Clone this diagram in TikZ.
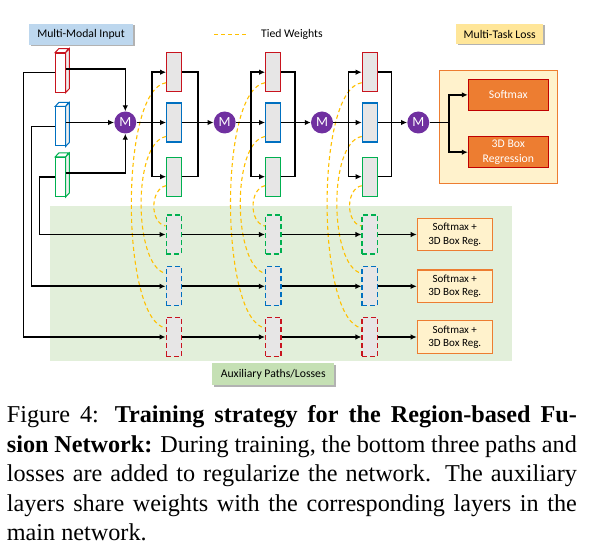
\documentclass[tikz,border=0pt]{standalone}
\usepackage{fontspec}
\setmainfont{Carlito}
\newfontfamily\capfont{Liberation Serif}
\usetikzlibrary{arrows.meta,calc,shadows}
\definecolor{cred}{RGB}{200,20,30}
\definecolor{cblue}{RGB}{0,112,192}
\definecolor{cgreen}{RGB}{0,176,80}
\definecolor{gfill}{RGB}{231,230,230}
\definecolor{mpurple}{RGB}{112,48,160}
\definecolor{tyellow}{RGB}{255,192,0}
\definecolor{lblue}{RGB}{189,215,238}
\definecolor{lyellow}{RGB}{255,230,153}
\definecolor{lgreen}{RGB}{197,224,180}
\definecolor{auxbg}{RGB}{226,239,218}
\definecolor{lossbg}{RGB}{255,242,204}
\definecolor{corange}{RGB}{237,125,49}
\definecolor{boxred}{RGB}{192,0,0}
\begin{document}
\begin{tikzpicture}[x=1pt,y=-1pt,
  mainblk/.style={draw=#1, fill=gfill, line width=1.2pt, minimum width=15pt, minimum height=39pt, inner sep=0pt},
  auxblk/.style={mainblk=#1, dash pattern=on 5pt off 3pt, minimum width=15.5pt},
  inblk/.style={draw=#1, fill=white, line width=1pt, minimum width=9.5pt, minimum height=39pt, inner sep=0pt},
  mnode/.style={circle, fill=mpurple, text=white, minimum size=22pt, inner sep=0pt, font=\fontsize{14}{14}\selectfont},
  conn/.style={line width=1.6pt, draw=black},
  arr/.style={conn, -{Latex[length=6pt,width=5.5pt]}},
  tied/.style={draw=tyellow, line width=1.1pt, dash pattern=on 4pt off 3pt},
  lbl/.style={fill=#1, inner sep=0pt, drop shadow={shadow xshift=1.5pt, shadow yshift=-1.5pt, fill=black, opacity=0.3}, font=\fontsize{11.7}{14}\selectfont},
  lossbox/.style={draw=boxred, fill=corange, line width=1pt, text=white, minimum width=80pt, inner sep=0pt, align=center, font=\fontsize{11.7}{15}\selectfont},
  auxloss/.style={draw=corange, fill=lossbg, line width=1.2pt, minimum width=75pt, minimum height=32.4pt, inner sep=0pt, align=center, font=\fontsize{11}{13.6}\selectfont}
]
\useasboundingbox (0,0) rectangle (595,545);

% backgrounds
\fill[auxbg] (50,206) rectangle (511.7,360.7);
\draw[corange, fill=lossbg, line width=1pt] (439.3,70.7) rectangle (557.3,183.3);

% labels
\node[lbl=lblue, minimum width=104pt, minimum height=21pt] (lmmi) at (81,34.5) {Multi-Modal Input};
\node[lbl=lyellow, minimum width=87.3pt, minimum height=20pt] (lmtl) at (499.7,34) {Multi-Task Loss};
\node[lbl=lgreen, minimum width=121.7pt, minimum height=21.7pt] (laux) at (273.2,374.2) {Auxiliary Paths/Losses};

% legend
\coordinate (tw1) at (214.3,34.3);
\coordinate (tw2) at (248.3,34.3);
\draw[tied] (tw1) -- (tw2);
\node[anchor=west, inner sep=0pt, font=\fontsize{11.7}{14}\selectfont] (twl) at (261,34.3) {Tied Weights};

% input cuboids
\node[inblk=cred] (inR) at (60.35,72.65) {};
\node[inblk=cblue] (inB) at (60.35,126.5) {};
\node[inblk=cgreen] (inG) at (60.35,177) {};
\foreach \c/\col in {R/cred,B/cblue,G/cgreen}{
  \draw[\col, line width=1pt, fill=white] (in\c.north west) -- ++(3.7,-4) -- ++(9.5,0) -- (in\c.north east) -- cycle;
  \draw[\col, line width=1pt, fill=gray!12] (in\c.north east) -- ++(3.7,-4) -- ($(in\c.south east)+(3.7,-4)$) -- (in\c.south east) -- cycle;
}

% M nodes
\node[mnode] (M1) at (125.3,122.5) {M};
\node[mnode] (M2) at (224.7,122.5) {M};
\node[mnode] (M3) at (322,122.5) {M};
\node[mnode] (M4) at (418.3,122.5) {M};

% main blocks and aux blocks
\foreach \k/\cx/\ax in {1/174.2/173.9, 2/273.2/273.3, 3/369.8/369.8}{
  \node[mainblk=cred] (b\k R) at (\cx,72.2) {};
  \node[mainblk=cblue] (b\k B) at (\cx,122.5) {};
  \node[mainblk=cgreen] (b\k G) at (\cx,176.7) {};
  \node[auxblk=cgreen] (a\k G) at (\ax,234.5) {};
  \node[auxblk=cblue] (a\k B) at (\ax,286.3) {};
  \node[auxblk=cred] (a\k R) at (\ax,337) {};
}

% tied weight curves
\foreach \k in {1,2,3}{
  \draw[tied] ($(b\k R.west)+(0,10.5)$) .. controls +(-47,7) and +(-45,-8) .. ($(a\k R.west)+(0,-9)$);
  \draw[tied] ($(b\k B.west)+(0,14)$) .. controls +(-34,6) and +(-32,-7) .. ($(a\k B.west)+(0,-13)$);
  \draw[tied] ($(b\k G.west)+(0,9)$) .. controls +(-16,3) and +(-16,-3) .. ($(a\k G.west)+(0,-8.5)$);
}

% input connections
\draw[arr] ($(inR.east)+(0,-3.5)$) -| (M1.north);
\draw[arr] (inB.east |- M1) -- (M1.west);
\draw[arr] ($(inG.east)+(0,-4)$) -| (M1.south);
\draw[arr] (inR.west) -- ++(-31.5,0) |- (a1R.west);
\draw[arr] (inB.west) -- ++(-23.5,0) |- (a1B.west);
\draw[arr] (inG.west) -- ++(-15.5,0) |- (a1G.west);

% main stages
\foreach \k/\s/\r/\n in {1/151.7/197.7/2, 2/250.7/295/3, 3/348.3/391.5/4}{
  \coordinate (s\k) at (\s,122.5);
  \coordinate (r\k) at (\r,122.5);
  \draw[arr] (M\k.east) -- (b\k B.west);
  \draw[arr] (s\k) |- (b\k R.west);
  \draw[arr] (s\k) |- (b\k G.west);
  \draw[conn] (b\k R.east) -| (r\k) |- (b\k G.east);
  \draw[arr] (b\k B.east) -- (M\n.west);
}

% multi-task loss
\node[lossbox, minimum height=30.7pt] (soft) at (508.3,94.9) {Softmax};
\node[lossbox, minimum height=31.3pt] (reg) at (508.3,152.2) {3D Box\\Regression};
\coordinate (s4) at (449,122.5);
\draw[conn] (M4.east) -- (s4);
\draw[arr] (s4) |- (soft.west);
\draw[arr] (s4) |- (reg.west);

% auxiliary losses
\node[auxloss] (LG) at (454.8,234.5) {Softmax +\\3D Box Reg.};
\node[auxloss] (LB) at (454.8,286.3) {Softmax +\\3D Box Reg.};
\node[auxloss] (LR) at (454.8,337) {Softmax +\\3D Box Reg.};
\foreach \c in {G,B,R}{
  \draw[arr] (a1\c.east) -- (a2\c.west);
  \draw[arr] (a2\c.east) -- (a3\c.west);
  \draw[arr] (a3\c.east) -- (L\c.west);
}

% caption
\node[anchor=base west, inner sep=0pt] (cap) at (6.7,423) {\parbox[t]{570pt}{\capfont\fontsize{24.2}{29.4}\selectfont\tolerance=9999
Figure 4: \textbf{Training strategy for the Region-based Fu-\linebreak sion Network:} During training, the bottom three paths and\linebreak losses are added to regularize the network. The auxiliary\linebreak layers share weights with the corresponding layers in the\linebreak main network.}};
\end{tikzpicture}
\end{document}
